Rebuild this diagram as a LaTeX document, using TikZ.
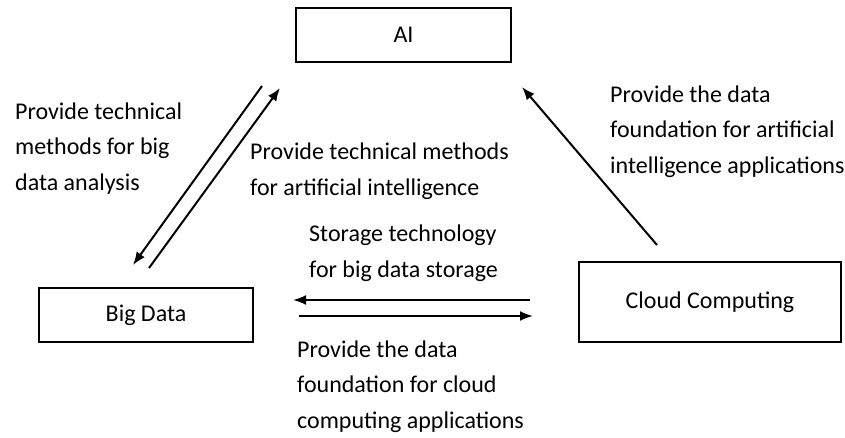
\documentclass[tikz,border=0pt]{standalone}
\usepackage{fontspec}
\setmainfont{Carlito}
\usetikzlibrary{arrows.meta,positioning}

\begin{document}
\begin{tikzpicture}[
            x=1pt,y=-1pt,
            every node/.style={font=\fontsize{24}{35.5}\selectfont},
            box/.style={draw,line width=2pt,inner sep=0pt},
            lbl/.style={align=left,anchor=base west,inner sep=0pt},
            link/.style={-{Latex[length=13pt,width=10pt]},line width=2pt}]

        \useasboundingbox (0,0) rectangle (845,437);

        % the three boxes
        \node[box,minimum width=215,minimum height=54] (ai) at (403.5,35) {AI};
        \node[box,minimum width=214,minimum height=54] (bigdata) at (146,315) {Big Data};
        \node[box,minimum width=262,minimum height=80] (cloud) at (710,302) {Cloud Computing};

        % free ends of the arrows
        \coordinate (ai-out) at (262,86);
        \coordinate (ai-in) at (280,88);
        \coordinate (ai-in2) at (522,87);
        \coordinate (bd-in) at (133,265);
        \coordinate (bd-out) at (149,268);
        \coordinate (bd-in2) at (293,300);
        \coordinate (bd-out2) at (299,316);
        \coordinate (cc-out) at (530,300);
        \coordinate (cc-in) at (533,316);
        \coordinate (cc-out2) at (657,245);

        \draw[link] (ai-out) -- (bd-in);
        \draw[link] (bd-out) -- (ai-in);
        \draw[link] (cc-out) -- (bd-in2);
        \draw[link] (bd-out2) -- (cc-in);
        \draw[link] (cc-out2) -- (ai-in2);

        % labels (base = last line)
        \node[lbl] (analysis) at (15,190)
            {Provide technical\\methods for big\\data analysis};
        \node[lbl] (methods) at (250,195)
            {Provide technical methods\\for artificial intelligence};
        \node[lbl] (storage) at (309,277)
            {Storage technology\\for big data storage};
        \node[lbl] (aifound) at (610,173)
            {Provide the data\\foundation for artificial\\intelligence applications};
        \node[lbl] (ccfound) at (297,428)
            {Provide the data\\foundation for cloud\\computing applications};
    \end{tikzpicture}
\end{document}
